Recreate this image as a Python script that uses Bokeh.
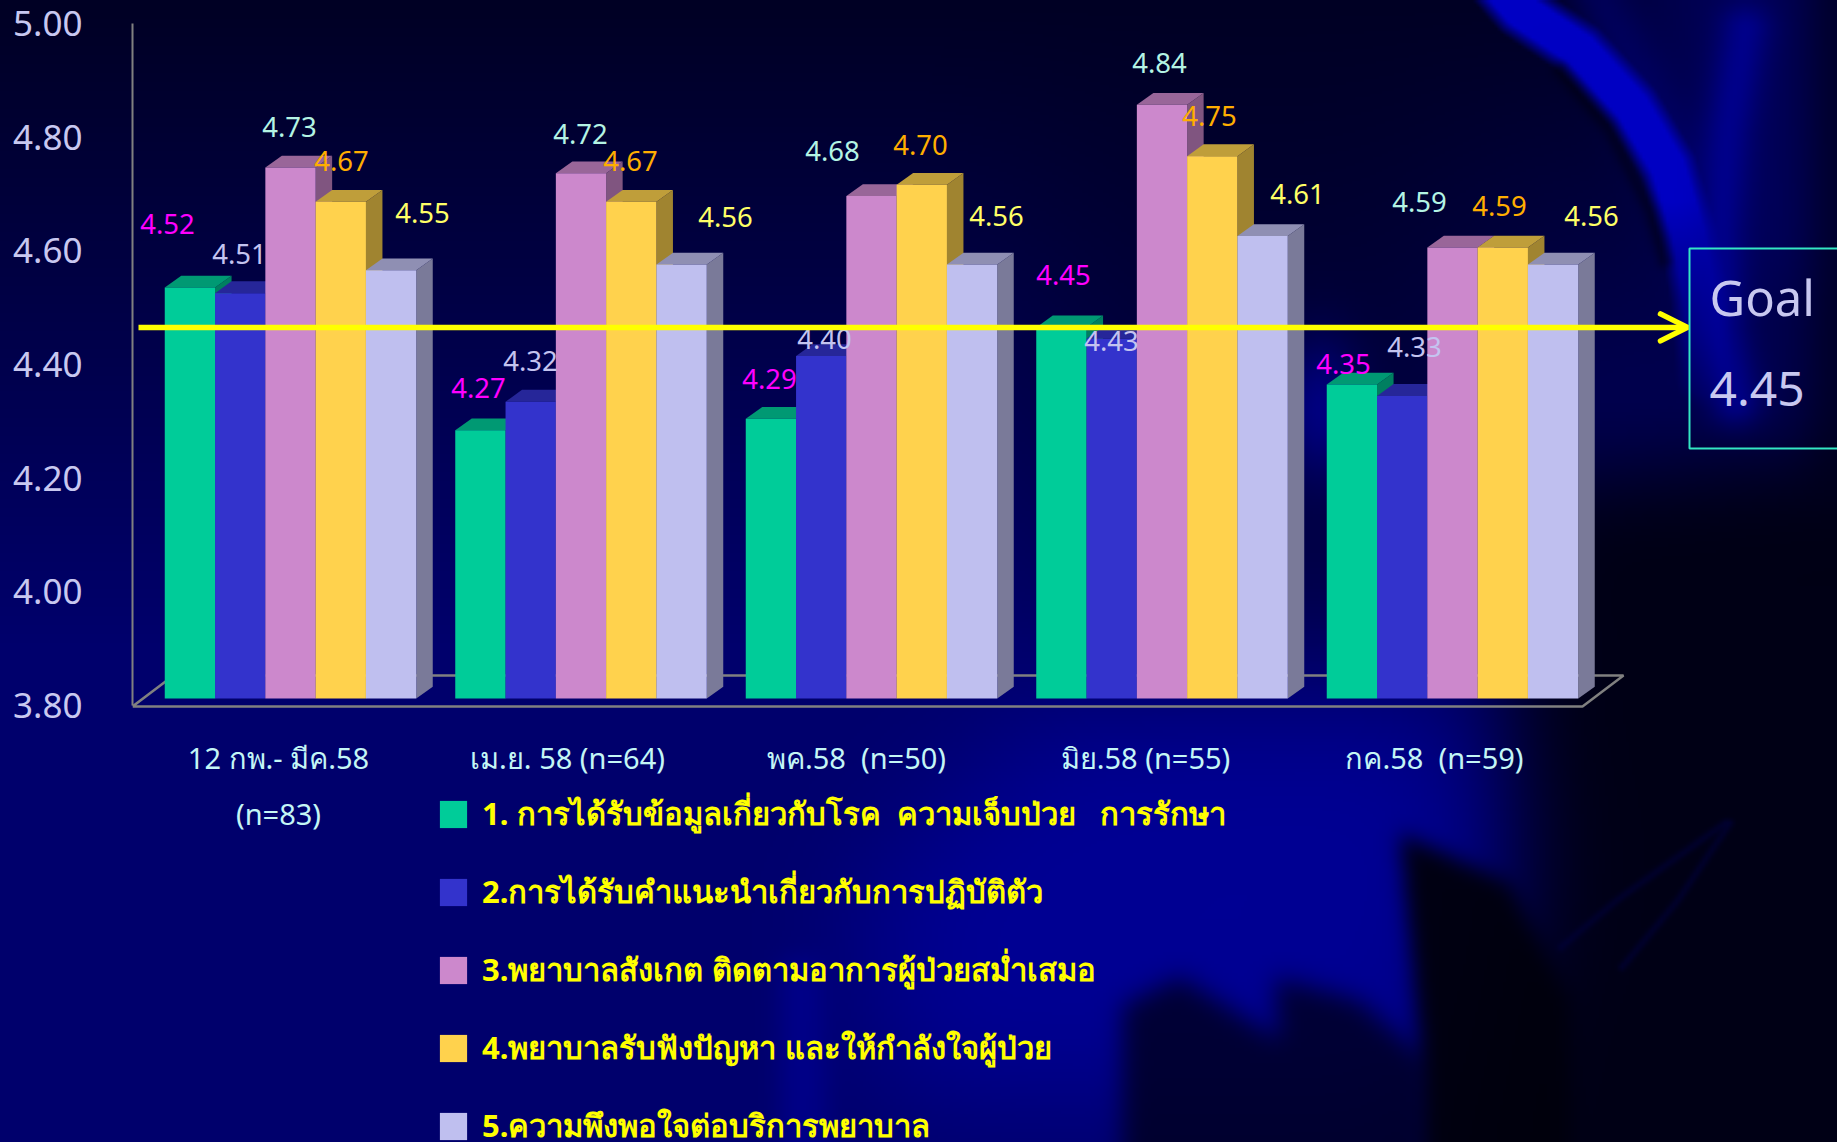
import base64, struct, zlib
import numpy as np
from bokeh.embed import file_html
from bokeh.resources import INLINE
from bokeh.core.properties import value
from bokeh.models import (Arrow, ColumnDataSource, FixedTicker, Label, Legend, LegendItem, LinearAxis,
                          NumeralTickFormatter, OpenHead, Range1d)
from bokeh.plotting import figure

# ---------- data ----------
categories = ["12 กพ.- มีค.58\n(n=83)", "เม.ย. 58 (n=64)", "พค.58\u00a0 (n=50)", "มิย.58 (n=55)", "กค.58\u00a0 (n=59)"]
series_names = ["1. การได้รับข้อมูลเกี่ยวกับโรค\u00a0 ความเจ็บป่วย\u00a0 \u00a0การรักษา",
                "2.การได้รับคำแนะนำเกี่ยวกับการปฏิบัติตัว",
                "3.พยาบาลสังเกต ติดตามอาการผู้ป่วยสม่ำเสมอ",
                "4.พยาบาลรับฟังปัญหา และให้กำลังใจผู้ป่วย",
                "5.ความพึงพอใจต่อบริการพยาบาล"]
s1 = [4.52, 4.27, 4.29, 4.45, 4.35]
s2 = [4.51, 4.32, 4.40, 4.43, 4.33]
s3 = [4.73, 4.72, 4.68, 4.84, 4.59]
s4 = [4.67, 4.67, 4.70, 4.75, 4.59]
s5 = [4.55, 4.56, 4.56, 4.61, 4.56]
goal = 4.45
y_ticks = [3.8, 4.0, 4.2, 4.4, 4.6, 4.8, 5.0]
series = [s1, s2, s3, s4, s5]

# ---------- styles ----------
front = ["#00CC99", "#3333CC", "#CC88CC", "#FFD24D", "#BFBFEF"]
top_c = ["#009973", "#262699", "#996699", "#BF9E3A", "#8F8FB3"]
side_c = ["#007F60", "#20207F", "#805580", "#A08430", "#7A7A99"]
label_c = ["#FF00FF", "#C4C4F0", "#B4F4E4", "#FFAE00", "#FFFF66"]
# label centres in page pixels (hand placed in the original slide)
label_px_x = [[167, 478, 769, 1063, 1343], [239, 530, 824, 1111, 1414], [289, 580, 832, 1159, 1419],
              [341, 630, 920, 1209, 1499], [422, 725, 996, 1297, 1591]]
label_px_y = [[223, 387, 378, 274, 363], [253, 360, 338, 340, 346], [126, 133, 150, 62, 201],
              [160, 160, 144, 115, 205], [212, 216, 215, 193, 215]]

W, H = 1837, 1142
AX_L, AX_B = 132, 706   # page px of axis corner


def bg_png():
    w, h = 612, 381
    yy, xx = np.mgrid[0:h, 0:w]
    x = (xx + 0.5) / w * W
    y = (yy + 0.5) / h * H
    step = W / w

    def blur(a, sigma):
        n = int(3 * sigma / step) + 1
        k = np.exp(-0.5 * (np.arange(-n, n + 1) * step / sigma) ** 2)
        k /= k.sum()
        a = np.pad(a, n, mode="edge")
        a = np.apply_along_axis(lambda m: np.convolve(m, k, mode="valid"), 0, a)
        a = np.apply_along_axis(lambda m: np.convolve(m, k, mode="valid"), 1, a)
        return a

    def poly(pts):
        m = np.zeros_like(x, dtype=bool)
        n = len(pts)
        for i in range(n):
            x1, y1 = pts[i]
            x2, y2 = pts[(i + 1) % n]
            if y1 == y2:
                continue
            c = ((y1 <= y) != (y2 <= y)) & (x < x1 + (y - y1) * (x2 - x1) / (y2 - y1))
            m ^= c
        return m.astype(float)

    def dist(pts):
        d = np.full_like(x, 1e9)
        for (x1, y1), (x2, y2) in zip(pts[:-1], pts[1:]):
            vx, vy = x2 - x1, y2 - y1
            t = np.clip(((x - x1) * vx + (y - y1) * vy) / (vx * vx + vy * vy), 0, 1)
            d = np.minimum(d, np.hypot(x - x1 - t * vx, y - y1 - t * vy))
        return d

    def paint(b, a, val):
        return b * (1 - a) + val * a

    t = np.clip(y / 640.0, 0, 1)
    b = 0x24 + (0x6C - 0x24) * t
    # dim behind the right part of the chart
    b = paint(b, 0.5 * blur(poly([(1050, 0), (1450, 0), (1500, 650), (1100, 650)]), 80), 0x24)
    # top right tint
    b = paint(b, 0.8 * blur(poly([(1620, -60), (1900, -60), (1900, 300), (1700, 300)]), 40), 0x60)
    # far right darkness
    b = paint(b, 0.9 * blur(poly([(1520, 480), (1900, 440), (1900, 1200), (1470, 1200)]), 45), 0x0C)
    b = paint(b, 0.7 * blur(poly([(1810, -60), (1900, -60), (1900, 500), (1810, 500)]), 20), 0x18)
    # big blue area behind the legend
    b = paint(b, 0.75 * blur(poly([(1040, 715), (1430, 700), (1490, 800), (1500, 900), (1420, 1100), (900, 1100), (850, 900)]), 60), 0xA0)
    b = paint(b, 0.6 * blur(poly([(780, 960), (820, 960), (830, 1200), (780, 1200)]), 12), 0x9A)
    # dark wedges
    b = paint(b, 0.95 * blur(poly([(1400, 833), (1509, 883), (1570, 1000), (1570, 1200), (1420, 1200), (1420, 1040)]), 10), 0x0C)
    b = paint(b, 0.78 * blur(poly([(1274, 977), (1358, 1000), (1425, 1060), (1425, 1200), (1123, 1200), (1123, 1005),
                                   (1180, 977), (1279, 1040)]), 12), 0x1C)
    # swoosh at the top right
    b = paint(b, 0.5 * np.exp(-(dist([(1590, -20), (1640, 80), (1675, 160)]) / 32) ** 2), 0x80)
    band = np.clip((30 - dist([(1490, -25), (1520, 10), (1580, 50), (1632, 107), (1668, 167), (1688, 233), (1700, 300),
                               (1705, 380)])) / 14, 0, 1)
    band *= np.clip((420 - y) / 220, 0, 1)
    b = paint(b, band, 0xC4)
    b = paint(b, 0.7 * np.exp(-(dist([(1745, 30), (1728, 130), (1720, 230), (1722, 330), (1735, 400)]) / 26) ** 2), 0xA0)
    # dark rim beside the swoosh
    b = paint(b, 0.4 * np.exp(-(dist([(1560, 70), (1610, 130), (1650, 210), (1665, 260)]) / 8) ** 2), 0x05)
    # glow left of the goal box
    b = paint(b, 0.8 * np.exp(-((x - 1320) / 40) ** 2 - ((y - 410) / 70) ** 2), 0x90)
    # faint streaks, lower right
    for pts in ([(1561, 947), (1617, 900), (1725, 823)], [(1622, 967), (1678, 900), (1730, 823)]):
        b = paint(b, 0.5 * np.exp(-(dist(pts) / 4) ** 2), 0x40)
    b = np.clip(b, 0, 255)
    z = np.zeros_like(b)
    img = np.dstack([z, z, b]).astype(np.uint8)
    raw = b"".join(b"\x00" + img[i].tobytes() for i in range(h))

    def chunk(tag, data):
        return struct.pack(">I", len(data)) + tag + data + struct.pack(">I", zlib.crc32(tag + data))

    png = (b"\x89PNG\r\n\x1a\n" + chunk(b"IHDR", struct.pack(">IIBBBBB", w, h, 8, 2, 0, 0, 0))
           + chunk(b"IDAT", zlib.compress(raw)) + chunk(b"IEND", b""))
    return "data:image/png;base64," + base64.b64encode(png).decode()


FONT = "Noto Sans"
PX_UNIT_X = 290.5
X0 = 290.0
PX_UNIT_Y = 570.9
Y0 = 698.0
bar_w = 50.3 / PX_UNIT_X
dx = 16.5 / PX_UNIT_X
dy = 11.8 / PX_UNIT_Y


def xd(px):
    return (px - X0) / PX_UNIT_X


def yd(px):
    return 3.8 + (Y0 - px) / PX_UNIT_Y


p = figure(width=W, height=H, output_backend="svg", toolbar_location=None,
           x_range=Range1d(xd(AX_L), xd(W)), y_range=Range1d(yd(H), yd(0)),
           min_border_left=AX_L, min_border_right=0, min_border_top=0, min_border_bottom=0,
           background_fill_alpha=0, border_fill_alpha=0, outline_line_alpha=0,
           x_axis_location=None, y_axis_location=None)
p.grid.visible = False
p.styles = {"position": "fixed", "left": "0px", "top": "0px",
            "background-image": f"url({bg_png()})", "background-size": "100% 100%"}

# y axis
p.extra_y_ranges["ax"] = Range1d(3.8 - (H - 705) / 568.33, 5.0 + 23 / 568.33)
yax = LinearAxis(y_range_name="ax", ticker=FixedTicker(ticks=y_ticks), bounds=(3.8, 5.0))
yax.formatter = NumeralTickFormatter(format="0.00")
yax.major_tick_line_color = None
yax.minor_tick_line_color = None
yax.axis_line_color = "#808080"
yax.axis_line_width = 2
yax.major_label_standoff = 44
yax.major_label_text_color = "#C8C8F0"
yax.major_label_text_font = FONT
yax.major_label_text_font_size = "35px"
p.add_layout(yax, "left")

# category labels under the floor
p.text([xd(278 + 289 * i) for i in range(5)], [yd(737)] * 5, text=categories, text_align="center",
       text_baseline="top", text_color="#C4F6F6", text_font=value(FONT), text_font_size="29px",
       text_line_height=1.44)

# floor of the 3D box
p.line([xd(AX_L), xd(AX_L + 41), xd(1623), xd(1582), xd(AX_L)], [yd(AX_B), yd(675), yd(675), yd(AX_B), yd(AX_B)],
       line_color="#808080", line_width=2.5)

# bars
legend_items = []
groups = list(range(5))
for k, (vals, name) in enumerate(zip(series, series_names)):
    off = (k - 2) * bar_w
    lefts = [g + off - bar_w / 2 for g in groups]
    rights = [g + off + bar_w / 2 for g in groups]
    p.patches([[r, r + dx, r + dx, r] for r in rights],
              [[3.8, 3.8 + dy, v + dy, v] for v in vals], fill_color=side_c[k], line_color=None)
    p.patches([[l, l + dx, r + dx, r] for l, r in zip(lefts, rights)],
              [[v, v + dy, v + dy, v] for v in vals], fill_color=top_c[k], line_color=None)
    r = p.vbar(x=[g + off for g in groups], width=bar_w, bottom=3.8, top=vals,
               fill_color=front[k], line_color=None)
    legend_items.append(LegendItem(label=name, renderers=[r]))

# goal arrow
p.add_layout(Arrow(x_start=xd(138), x_end=xd(1687), y_start=goal, y_end=goal, line_color="#FFFF00", line_width=5.5,
                   start=None, end=OpenHead(size=27, line_color="#FFFF00", line_width=5.5, line_cap="round")))

# value labels
for k, vals in enumerate(series):
    off = (k - 2) * bar_w
    xs = [g + off for g in groups]
    px_x = [X0 + x * PX_UNIT_X for x in xs]
    px_y = [Y0 - (v - 3.8) * PX_UNIT_Y for v in vals]
    src = ColumnDataSource(dict(x=xs, y=vals, t=[f"{v:.2f}" for v in vals],
                                ox=[a - b for a, b in zip(label_px_x[k], px_x)],
                                oy=[a - b for a, b in zip(label_px_y[k], px_y)]))
    p.text("x", "y", text="t", source=src, x_offset="ox", y_offset="oy", text_align="center",
           text_baseline="middle", text_color=label_c[k], text_font=value(FONT), text_font_size="27.5px")

# goal box
p.quad(left=xd(1689), right=xd(W + 20), top=yd(248), bottom=yd(448), fill_alpha=0,
       line_color="#33E6C4", line_width=2)
p.add_layout(Label(x=xd(1709), y=yd(296), text="Goal", text_color="#C8C8F0", text_baseline="middle",
                   text_font=FONT, text_font_size="49px"))
p.add_layout(Label(x=xd(1709), y=yd(388), text=f"{goal:.2f}", text_color="#C8C8F0", text_baseline="middle",
                   text_font=FONT, text_font_size="48px"))

legend = Legend(items=legend_items, location=(304, -9), orientation="vertical", padding=0, margin=0,
                spacing=28, glyph_width=34, glyph_height=34, label_standoff=12,
                background_fill_alpha=0, border_line_alpha=0, label_text_color="#FFFF00",
                label_text_font=FONT, label_text_font_size="31px", label_text_font_style="bold")
p.add_layout(legend, "center")

open("out.html", "w").write(file_html(p, INLINE))
